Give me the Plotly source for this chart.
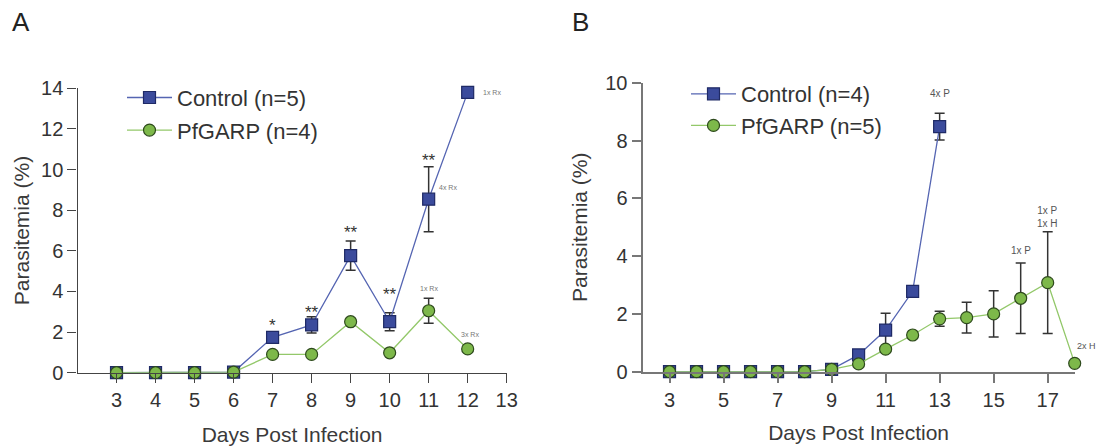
import plotly.graph_objects as go

# ---------------- Data: Panel A ----------------
a_days = [3, 4, 5, 6, 7, 8, 9, 10, 11, 12]
a_control = [0, 0, 0, 0.03, 1.74, 2.35, 5.76, 2.51, 8.54, 13.8]
a_control_err = [0, 0, 0, 0, 0.1, 0.4, 0.72, 0.44, 1.6, 0]
a_garp = [0, 0, 0, 0.03, 0.9, 0.9, 2.51, 0.98, 3.05, 1.17]
a_garp_err = [0, 0, 0, 0, 0, 0, 0.05, 0, 0.62, 0]
a_xticks = [3, 4, 5, 6, 7, 8, 9, 10, 11, 12, 13]
a_yticks = [0, 2, 4, 6, 8, 10, 12, 14]
a_star_days = [7, 8, 9, 10, 11, 12]
a_star_text = ["*", "**", "**", "**", "**", "**"]
a_star_y = [2.3, 2.95, 6.9, 3.85, 10.45, 14.25]
a_note_x = [12.62, 11.5, 11.0, 12.05]
a_note_y = [13.8, 9.13, 4.15, 1.86]
a_note_text = ["1x Rx", "4x Rx", "1x Rx", "3x Rx"]

# ---------------- Data: Panel B ----------------
b_ctrl_days = [3, 4, 5, 6, 7, 8, 9, 10, 11, 12, 13]
b_control = [0, 0, 0, 0, 0, 0, 0.08, 0.58, 1.44, 2.78, 8.48]
b_control_err = [0, 0, 0, 0, 0, 0, 0, 0.08, 0.58, 0.15, 0.46]
b_garp_days = [3, 4, 5, 6, 7, 8, 9, 10, 11, 12, 13, 14, 15, 16, 17, 18]
b_garp = [0, 0, 0, 0, 0, 0, 0.08, 0.27, 0.78, 1.27, 1.83, 1.87, 2.0, 2.54, 3.08, 0.29]
b_garp_err = [0, 0, 0, 0, 0, 0, 0, 0, 0.05, 0.05, 0.26, 0.53, 0.8, 1.22, 1.76, 0]
b_xticks = [3, 5, 7, 9, 11, 13, 15, 17]
b_yticks = [0, 2, 4, 6, 8, 10]
b_note_x = [13, 16, 17, 18.0]
b_note_y = [9.63, 4.19, 5.37, 0.89]
b_note_text = ["4x P", "1x P", "1x P<br>1x H", "2x H"]

FONT = "Liberation Sans, Arial, Helvetica, sans-serif"
BLUE_FILL = "#3b4b9c"
BLUE_EDGE = "#1f2a66"
BLUE_LINE = "#5565b2"
GREEN_FILL = "#7db84a"
GREEN_EDGE = "#2e4a1d"
GREEN_LINE = "#93c86a"
ERR = "#333333"

fig = go.Figure()


def add_series(x, y, err, name, symbol, fill, edge, line, xa, ya, legend, group):
    fig.add_trace(go.Scatter(
        x=x, y=y, name=name, mode="lines+markers",
        xaxis=xa, yaxis=ya, legend=legend, legendgroup=group,
        line=dict(color=line, width=1.3),
        marker=dict(symbol=symbol, size=12, color=fill,
                    line=dict(color=edge, width=1.2)),
        error_y=dict(type="data", array=err, visible=True, color=ERR,
                     thickness=1.5, width=5),
        cliponaxis=False,
    ))


add_series(a_days, a_control, a_control_err, "Control (n=5)", "square",
           BLUE_FILL, BLUE_EDGE, BLUE_LINE, "x", "y", "legend", "a1")
add_series(a_days, a_garp, a_garp_err, "PfGARP (n=4)", "circle",
           GREEN_FILL, GREEN_EDGE, GREEN_LINE, "x", "y", "legend", "a2")
add_series(b_ctrl_days, b_control, b_control_err, "Control (n=4)", "square",
           BLUE_FILL, BLUE_EDGE, BLUE_LINE, "x2", "y2", "legend2", "b1")
add_series(b_garp_days, b_garp, b_garp_err, "PfGARP (n=5)", "circle",
           GREEN_FILL, GREEN_EDGE, GREEN_LINE, "x2", "y2", "legend2", "b2")

annotations = []
for d, t, yy in zip(a_star_days, a_star_text, a_star_y):
    annotations.append(dict(x=d, y=yy, xref="x", yref="y", text=t, showarrow=False,
                            font=dict(family=FONT, size=17, color="#333333")))
for xx, yy, t in zip(a_note_x, a_note_y, a_note_text):
    annotations.append(dict(x=xx, y=yy, xref="x", yref="y", text=t, showarrow=False,
                            font=dict(family=FONT, size=7, color="#777777")))
for xx, yy, t in zip(b_note_x, b_note_y, b_note_text):
    anchor = "left" if t == "2x H" else "center"
    annotations.append(dict(x=xx, y=yy, xref="x2", yref="y2", text=t, showarrow=False,
                            xanchor=anchor,
                            font=dict(family=FONT, size=9 if t == "2x H" else 10,
                                      color="#555555")))
annotations.append(dict(x=21 / 1096, y=1 - 22 / 448, xref="paper", yref="paper", text="A",
                        xanchor="center", yanchor="middle",
                        showarrow=False, font=dict(family=FONT, size=26, color="#222222")))
annotations.append(dict(x=580 / 1096, y=1 - 22 / 448, xref="paper", yref="paper", text="B",
                        xanchor="center", yanchor="middle",
                        showarrow=False, font=dict(family=FONT, size=26, color="#222222")))

tickfont = dict(family=FONT, size=20, color="#333333")
titlefont = dict(family=FONT, size=21, color="#3a3a3a")

common_axis = dict(showgrid=False, zeroline=False, showline=True, ticks="outside",
                   ticklen=9, tickfont=tickfont, automargin=False)

legend_font = dict(family=FONT, size=22, color="#333333")

fig.update_layout(
    width=1096, height=448,
    margin=dict(l=0, r=0, t=0, b=0),
    paper_bgcolor="white", plot_bgcolor="white",
    showlegend=True,
    xaxis=dict(domain=[77.5 / 1096, 506.7 / 1096], range=[2, 13], tickvals=a_xticks,
               linecolor="#444444", linewidth=1.4, tickcolor="#444444", tickwidth=1.4,
               title=dict(text="Days Post Infection", font=titlefont, standoff=17),
               anchor="y", **common_axis),
    yaxis=dict(domain=[1 - 372.7 / 448, 1 - 88.3 / 448], range=[0, 14], tickvals=a_yticks,
               linecolor="#444444", linewidth=1.4, tickcolor="#444444", tickwidth=1.4,
               title=dict(text="Parasitemia (%)", font=titlefont, standoff=5),
               anchor="x", **common_axis),
    xaxis2=dict(domain=[642.5 / 1096, 1074.7 / 1096], range=[2, 18], tickvals=b_xticks,
                linecolor="#777777", linewidth=2, tickcolor="#777777", tickwidth=2,
                title=dict(text="Days Post Infection", font=titlefont, standoff=16),
                anchor="y2", **common_axis),
    yaxis2=dict(domain=[1 - 371.7 / 448, 1 - 82.7 / 448], range=[0, 10], tickvals=b_yticks,
                linecolor="#777777", linewidth=2, tickcolor="#777777", tickwidth=2,
                title=dict(text="Parasitemia (%)", font=titlefont, standoff=12),
                anchor="x2", **common_axis),
    legend=dict(x=122 / 1096, y=1 - 76.7 / 448, xanchor="left", yanchor="top",
                bgcolor="rgba(0,0,0,0)", font=legend_font, tracegroupgap=1,
                itemwidth=45),
    legend2=dict(x=686 / 1096, y=1 - 73 / 448, xanchor="left", yanchor="top",
                 bgcolor="rgba(0,0,0,0)", font=legend_font, tracegroupgap=0,
                 itemwidth=45),
    annotations=annotations,
)

fig.write_html(
    "out.html",
    config={"displayModeBar": False},
    post_script="document.body.style.margin='0';document.body.style.padding='0';",
)
